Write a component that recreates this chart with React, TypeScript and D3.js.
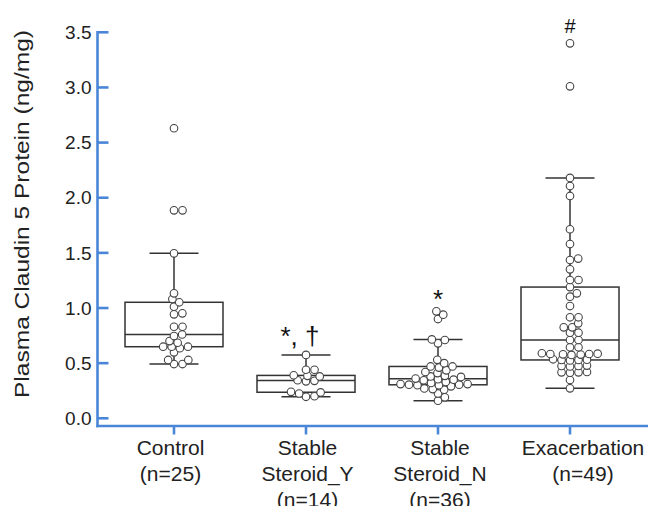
import React from 'react';
import * as d3 from 'd3';

const W = 648;
const H = 506;

const groups = ['Control', 'Stable Steroid_Y', 'Stable Steroid_N', 'Exacerbation'];
const labelLines = [
  ['Control', '(n=25)'],
  ['Stable', 'Steroid_Y', '(n=14)'],
  ['Stable', 'Steroid_N', '(n=36)'],
  ['Exacerbation', '(n=49)'],
];
const annotations = ['', '*, \u2020', '*', '#'];

const controlValues = [
  2.63, 1.886, 1.886, 1.496, 1.133, 1.082, 1.052, 1.012, 0.952, 0.943, 0.83, 0.83, 0.76,
  0.746, 0.7, 0.685, 0.649, 0.649, 0.649, 0.635, 0.598, 0.529, 0.529, 0.492, 0.492,
];
const steroidYValues = [
  0.575, 0.44, 0.44, 0.39, 0.385, 0.38, 0.345, 0.34, 0.335, 0.24, 0.235, 0.225, 0.2, 0.195,
];
const steroidNValues = [
  0.97, 0.94, 0.9, 0.715, 0.71, 0.68, 0.53, 0.5, 0.47, 0.47, 0.46, 0.435, 0.42, 0.41, 0.385,
  0.38, 0.375, 0.36, 0.355, 0.35, 0.345, 0.33, 0.32, 0.31, 0.31, 0.305, 0.305, 0.3, 0.3, 0.29,
  0.27, 0.265, 0.26, 0.225, 0.19, 0.16,
];
const exacerbationValues = [
  3.4, 3.01, 2.18, 2.106, 2.016, 1.714, 1.58, 1.448, 1.435, 1.351, 1.254, 1.254, 1.19, 1.133,
  1.103, 1.018, 0.916, 0.916, 0.861, 0.825, 0.825, 0.776, 0.776, 0.71, 0.71, 0.644, 0.644,
  0.59, 0.586, 0.583, 0.583, 0.58, 0.578, 0.575, 0.525, 0.529, 0.529, 0.532, 0.535, 0.474,
  0.47, 0.478, 0.474, 0.417, 0.42, 0.414, 0.417, 0.347, 0.272,
];
const groupValues = [controlValues, steroidYValues, steroidNValues, exacerbationValues];

const yTicks = [0, 0.5, 1.0, 1.5, 2.0, 2.5, 3.0, 3.5];
const yTitle = 'Plasma Claudin 5 Protein (ng/mg)';

const AXIS = '#4a86d8';
const INK = '#333';
const labelDx = [-3.5, 1.5, 2, 13];
const annotDy = [0, -10, -3, -10];
const annotSize = [26, 26, 26, 20];

const yScale = d3.scaleLinear().domain([0, 3.5]).range([418.3, 32.3]);
const xScale = d3.scalePoint<string>().domain(groups).range([108, 636]).padding(0.5);

function boxStats(values: number[]) {
  const s = values.slice().sort(d3.ascending);
  const q1 = d3.quantile(s, 0.25)!;
  const med = d3.quantile(s, 0.5)!;
  const q3 = d3.quantile(s, 0.75)!;
  const iqr = q3 - q1;
  const lo = d3.min(s.filter((v) => v >= q1 - 1.5 * iqr))!;
  const hi = d3.max(s.filter((v) => v <= q3 + 1.5 * iqr))!;
  return { q1, med, q3, lo, hi, max: s[s.length - 1] };
}

// elliptical-collision beeswarm: points in nearby rows may overlap a little
function beeswarm(values: number[], Dx: number, Dy: number) {
  const order = values.map((_, i) => i).sort((a, b) => values[a] - values[b]);
  const placed: { x: number; y: number }[] = [];
  const hit = (x: number, y: number, p: { x: number; y: number }) =>
    ((x - p.x) / Dx) ** 2 + ((y - p.y) / Dy) ** 2 < 1 - 1e-6;
  for (const i of order) {
    const y = yScale(values[i]);
    const cands = [0];
    for (const p of placed) {
      const dy = Math.abs(p.y - y);
      if (dy < Dy) {
        const dx = Dx * Math.sqrt(1 - (dy / Dy) ** 2);
        cands.push(p.x + dx, p.x - dx);
      }
    }
    cands.sort((a, b) => Math.abs(a) - Math.abs(b) || b - a);
    let chosen = 0;
    for (const c of cands) {
      if (placed.every((p) => !hit(c, y, p))) {
        chosen = c;
        break;
      }
    }
    placed.push({ x: chosen, y });
  }
  return placed;
}

export default function App() {
  const boxHalf = 49;
  const capHalf = 24.5;
  const r = 3.8;
  const axisY = 426;
  const axisX = 97.5;
  return (
    <svg
      width={W}
      height={H}
      viewBox={`0 0 ${W} ${H}`}
      style={{ position: 'absolute', left: 0, top: 0, background: '#fff' }}
      fontFamily="'Liberation Sans', Arial, sans-serif"
    >
      <rect width={W} height={H} fill="#fff" />
      {groups.map((g, gi) => {
        const cx = xScale(g)!;
        const st = boxStats(groupValues[gi]);
        return (
          <g key={g} stroke={INK} strokeWidth={1.5} fill="none">
            <line x1={cx} x2={cx} y1={yScale(st.hi)} y2={yScale(st.q3)} />
            <line x1={cx} x2={cx} y1={yScale(st.q1)} y2={yScale(st.lo)} />
            <line x1={cx - capHalf} x2={cx + capHalf} y1={yScale(st.hi)} y2={yScale(st.hi)} />
            <line x1={cx - capHalf} x2={cx + capHalf} y1={yScale(st.lo)} y2={yScale(st.lo)} />
            <rect
              x={cx - boxHalf}
              y={yScale(st.q3)}
              width={boxHalf * 2}
              height={yScale(st.q1) - yScale(st.q3)}
            />
            <line x1={cx - boxHalf} x2={cx + boxHalf} y1={yScale(st.med)} y2={yScale(st.med)} />
          </g>
        );
      })}
      {groups.map((g, gi) => {
        const cx = xScale(g)!;
        const pts = beeswarm(groupValues[gi], 8.5, 5.6);
        return (
          <g key={g + 'p'} fill="#fff" stroke="#444" strokeWidth={1.1}>
            {pts.map((p, i) => (
              <circle key={i} cx={cx + p.x} cy={p.y} r={r} />
            ))}
          </g>
        );
      })}
      {groups.map((g, gi) => {
        if (!annotations[gi]) return null;
        const st = boxStats(groupValues[gi]);
        return (
          <text
            key={g + 'a'}
            x={xScale(g)! - (gi === 1 ? 6 : 0)}
            y={yScale(st.max) + annotDy[gi]}
            textAnchor="middle"
            fontSize={annotSize[gi]}
            fill="#111"
          >
            {annotations[gi]}
          </text>
        );
      })}
      <g stroke={AXIS} strokeWidth={2.6} fill="none">
        <line x1={axisX} x2={axisX} y1={31} y2={axisY + 1.3} />
        <line x1={axisX - 1.3} x2={W} y1={axisY} y2={axisY} />
        {yTicks.map((t) => (
          <line key={t} x1={axisX} x2={axisX + 11} y1={yScale(t)} y2={yScale(t)} />
        ))}
        {groups.map((g) => (
          <line key={g} x1={xScale(g)!} x2={xScale(g)!} y1={axisY} y2={axisY + 8.5} />
        ))}
      </g>
      {yTicks.map((t) => (
        <text
          key={t}
          x={91.5}
          y={yScale(t)}
          dy="0.35em"
          textAnchor="end"
          fontSize={19}
          fill="#222"
        >
          {d3.format('.1f')(t)}
        </text>
      ))}
      {groups.map((g, gi) => (
        <text
          key={g + 'l'}
          x={xScale(g)! + labelDx[gi]}
          y={455}
          textAnchor="middle"
          fontSize={21}
          fill="#222"
        >
          {labelLines[gi].map((ln, li) => (
            <tspan key={li} x={xScale(g)! + labelDx[gi]} y={455 + li * 26}>
              {ln}
            </tspan>
          ))}
        </text>
      ))}
      <text
        transform="translate(29,214) rotate(-90)"
        textAnchor="middle"
        fontSize={20}
        fill="#222"
        textLength={368}
        lengthAdjust="spacingAndGlyphs"
      >
        {yTitle}
      </text>
    </svg>
  );
}
